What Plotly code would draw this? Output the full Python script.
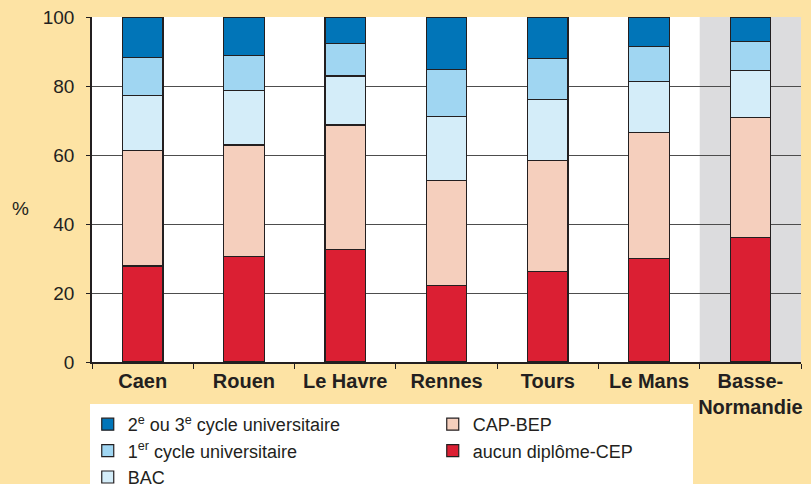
import plotly.graph_objects as go

categories = ["Caen", "Rouen", "Le Havre", "Rennes", "Tours", "Le Mans", "Basse-<br>Normandie"]
aucun = [27.8, 30.6, 32.5, 22.2, 26.3, 30.0, 36.2]
cap_bep = [33.4, 32.3, 36.2, 30.4, 32.0, 36.5, 34.7]
bac = [16.1, 15.8, 14.2, 18.6, 17.9, 14.8, 13.5]
cycle1 = [11.0, 10.1, 9.5, 13.5, 11.8, 10.1, 8.4]
cycle23 = [11.7, 11.2, 7.6, 15.3, 12.0, 8.6, 7.2]
y_ticks = [0, 20, 40, 60, 80, 100]

series = [
    ("aucun diplôme-CEP", aucun, "#db1f33", 4),
    ("CAP-BEP", cap_bep, "#f5cfbd", 2),
    ("BAC", bac, "#d4edf9", 5),
    ("1<sup>er</sup> cycle universitaire", cycle1, "#a0d6f2", 3),
    ("2<sup>e</sup> ou 3<sup>e</sup> cycle universitaire", cycle23, "#0175b8", 1),
]

TXT = "#231f20"
FONT = "Liberation Sans, Arial, sans-serif"

fig = go.Figure()
for name, vals, col, rank in series:
    fig.add_trace(go.Bar(
        x=categories, y=vals, name=name, legendrank=rank,
        marker=dict(color=col, line=dict(color="#231f20", width=1.2)),
        width=0.4,
    ))

fig.add_shape(type="rect", xref="x", yref="paper", x0=5.5, x1=6.5, y0=0, y1=1,
              fillcolor="#dcdcde", line=dict(width=0), layer="below")
fig.add_shape(type="rect", xref="paper", yref="paper",
              x0=(90 - 92) / 709, x1=(693 - 92) / 709,
              y0=(362 - 500) / 345, y1=(362 - 404) / 345,
              fillcolor="white", line=dict(width=0), layer="below")

fig.add_annotation(x=(20 - 92) / 709, y=(362 - 208) / 345, xref="paper", yref="paper",
                   text="%", showarrow=False, font=dict(size=19, color=TXT, family=FONT),
                   xanchor="center", yanchor="middle")

fig.update_layout(
    width=811, height=484,
    barmode="stack",
    paper_bgcolor="#fde3a4",
    plot_bgcolor="white",
    margin=dict(l=92, r=10, t=17, b=122, autoexpand=False),
    font=dict(family=FONT, color=TXT),
    legend=dict(
        orientation="h", x=-0.006, y=(362 - 406) / 345, xanchor="left", yanchor="top",
        bgcolor="rgba(0,0,0,0)", entrywidth=300, entrywidthmode="pixels",
        traceorder="normal", itemwidth=30,
        font=dict(size=18, color=TXT, family=FONT), tracegroupgap=0,
    ),
    bargap=0.6,
)
fig.update_xaxes(
    type="category", showline=True, linecolor=TXT, linewidth=1.5,
    ticks="outside", tickson="boundaries", ticklen=5, tickcolor=TXT,
    tickfont=dict(size=20, color=TXT, family=FONT),
    showgrid=False, tickangle=0, automargin=False,
    tickvals=categories,
    ticktext=["<b>" + c.replace("<br>", "</b><br><b>") + "</b>" for c in categories],
)
fig.update_yaxes(
    range=[0, 100], tickvals=y_ticks, showline=True, linecolor=TXT, linewidth=1.5,
    ticks="outside", ticklen=4, tickcolor=TXT, automargin=False, ticklabelstandoff=8,
    tickfont=dict(size=19, color=TXT, family=FONT),
    showgrid=True, gridcolor="#4d4d4d", gridwidth=1, zeroline=False,
)

fig.write_html("out.html", config={"displayModeBar": False},
               post_script="document.body.style.margin='0';")
